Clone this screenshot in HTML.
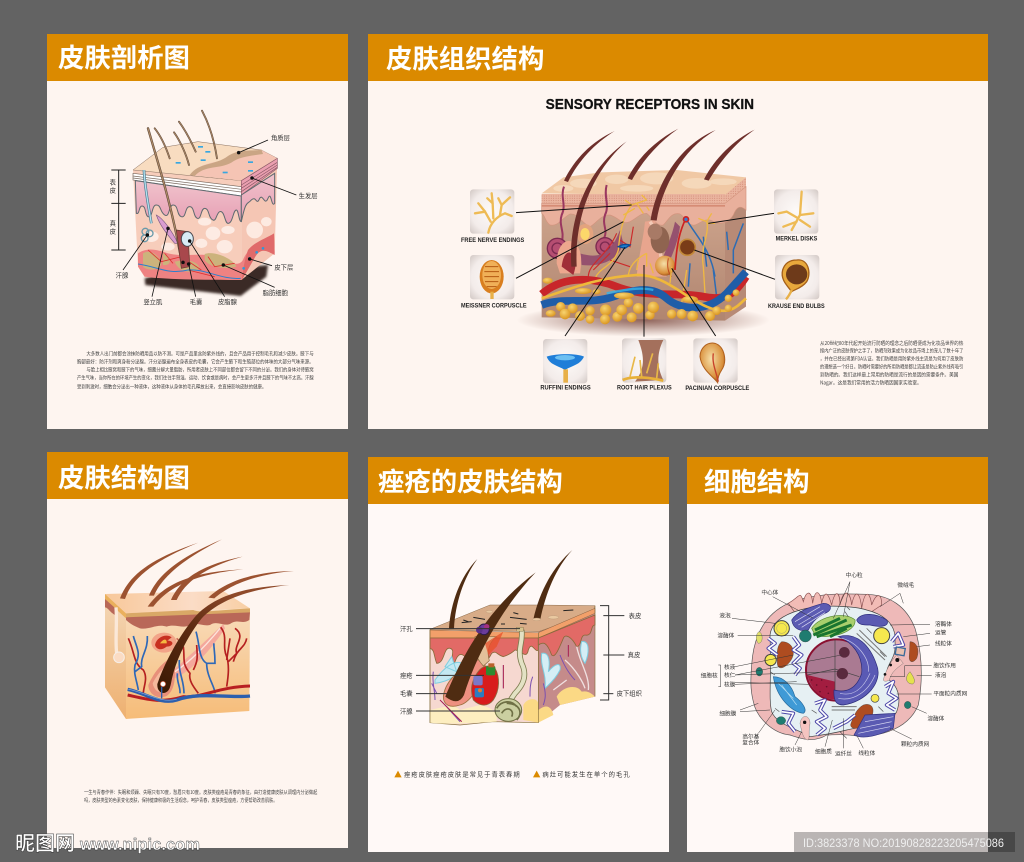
<!DOCTYPE html>
<html lang="zh"><head><meta charset="utf-8"><title>皮肤结构</title>
<style>
html,body{margin:0;padding:0;background:#636363;width:1024px;height:862px;overflow:hidden}
svg{display:block}
text{font-family:"Liberation Sans","Noto Sans CJK SC",sans-serif}
.h{font-size:26.4px;font-weight:700;fill:#fff;font-family:"Noto Sans CJK SC",sans-serif}
.l{font-size:19px;fill:#333;font-family:"Noto Sans CJK SC",sans-serif}
.p{font-size:15px;fill:#444;font-family:"Noto Sans CJK SC",sans-serif}
.e{font-size:18px;font-weight:700;fill:#222}
</style></head><body>
<svg xmlns="http://www.w3.org/2000/svg" width="1024" height="862" viewBox="0 0 1024 862">
<defs>
<filter id="b4"><feGaussianBlur stdDeviation="4"/></filter>
<radialGradient id="fat" cx=".4" cy=".35" r=".7"><stop offset="0" stop-color="#f8d470"/><stop offset="1" stop-color="#d9921c"/></radialGradient>
<radialGradient id="fat2" cx=".45" cy=".4" r=".6"><stop offset="0" stop-color="#f6dfa8"/><stop offset=".8" stop-color="#d98f3a"/><stop offset="1" stop-color="#a65a20"/></radialGradient>
<radialGradient id="card" cx=".5" cy=".5" r=".72"><stop offset="0" stop-color="#fdfaf8"/><stop offset=".65" stop-color="#f3ecea"/><stop offset="1" stop-color="#cfc5c1"/></radialGradient>
<linearGradient id="pk" x1="0" y1="0" x2="0" y2="1"><stop offset="0" stop-color="#f0c3cc"/><stop offset="1" stop-color="#e79fb4"/></linearGradient>
<linearGradient id="der" x1="0" y1="0" x2="0" y2="1"><stop offset="0" stop-color="#d0a78f"/><stop offset="1" stop-color="#b08570"/></linearGradient>
<linearGradient id="f3" x1="0" y1="0" x2="0" y2="1"><stop offset="0" stop-color="#f8dcbc"/><stop offset="1" stop-color="#f6bc78"/></linearGradient>
<linearGradient id="f3l" x1="0" y1="0" x2="0" y2="1"><stop offset="0" stop-color="#f4d8b8"/><stop offset="1" stop-color="#eeb070"/></linearGradient>
<linearGradient id="t3" x1="0" y1="0" x2="1" y2="0"><stop offset="0" stop-color="#f8c89a"/><stop offset=".6" stop-color="#fbdcc6"/><stop offset="1" stop-color="#f8cfa4"/></linearGradient>
<linearGradient id="hg3" gradientUnits="userSpaceOnUse" x1="300" y1="470" x2="520" y2="190"><stop offset="0" stop-color="#3c1a05"/><stop offset=".55" stop-color="#5e2c12"/><stop offset="1" stop-color="#8f4a2a"/></linearGradient>
<pattern id="dots" width="7" height="7" patternUnits="userSpaceOnUse"><rect width="7" height="7" fill="#eab49f"/><circle cx="3" cy="3" r="1.1" fill="#b9624e"/></pattern>
<radialGradient id="sh"><stop offset="0" stop-color="#6b3328" stop-opacity=".75"/><stop offset="1" stop-color="#6b3328" stop-opacity="0"/></radialGradient>
</defs>

<rect width="1024" height="862" fill="#636363"/>
<!-- panels -->
<rect x="47" y="34" width="301" height="395" fill="#fef5f0"/><rect x="47" y="34" width="301" height="47" fill="#db8a00"/>
<rect x="368" y="34" width="620" height="395" fill="#fef5f0"/><rect x="368" y="34" width="620" height="47" fill="#db8a00"/>
<rect x="47" y="452" width="301" height="396" fill="#fef5f0"/><rect x="47" y="452" width="301" height="47" fill="#db8a00"/>
<rect x="368" y="457" width="301" height="395" fill="#fff9f7"/><rect x="368" y="457" width="301" height="47" fill="#db8a00"/>
<rect x="687" y="457" width="301" height="395" fill="#fff9f7"/><rect x="687" y="457" width="301" height="47" fill="#db8a00"/>
<text class="h" x="58" y="67">皮肤剖析图</text>
<text class="h" x="386" y="68">皮肤组织结构</text>
<text class="h" x="58" y="487">皮肤结构图</text>
<text class="h" x="378" y="491">痤疮的皮肤结构</text>
<text class="h" x="704" y="491">细胞结构</text>

<!-- PANEL 1 -->
<g transform="translate(48 90) scale(.33333)">
<polygon points="290,565 320,555 660,525 655,560 578,618 292,585" fill="#3a2a25" filter="url(#b4)"/>
<polygon points="580,272 688,205 680,490 580,570" fill="#f5c6b4"/>
<polygon points="255,240 580,272 580,570 290,562 270,530" fill="#f7cdbb"/>
<polygon points="255,240 345,172 450,155 640,180 688,205 580,272" fill="#f8dcc0" stroke="#8a7060" stroke-width="1.5"/>
<path d="M425,255 C470,205 520,225 555,195 C590,178 625,185 640,180 L688,205 L580,272 Z" fill="#f5c4b4"/>
<path d="M425,255 C455,215 500,228 540,198 C575,175 620,185 640,178 L645,192 C605,198 575,200 550,218 C515,238 470,225 440,258 Z" fill="#caa584"/>
<polygon points="255,250 580,290 580,318 255,270" fill="#fff" stroke="#7a6a60" stroke-width="2"/>
<path d="M255,258 L580,298 M255,264 L580,306" stroke="#7a6a60" stroke-width="2" fill="none"/>
<polygon points="580,272 688,205 688,235 580,315" fill="#eb9fb0" stroke="#8a5a66" stroke-width="2"/>
<path d="M580,285 L688,217 M580,295 L688,225 M580,305 L688,232" stroke="#8a5a66" stroke-width="2" fill="none"/>
<path d="M262,272 L580,318 L580,395 C572,395 572,360 565,360 C555,360 555,400 540,400 C530,400 530,360 515,365 C505,370 505,395 495,390 C480,385 485,355 470,355 C458,355 460,390 448,385 C435,380 440,350 425,350 C410,350 415,385 400,380 C385,375 392,345 375,345 C362,345 365,385 350,375 C335,365 340,345 325,345 C310,345 315,385 300,380 C290,375 295,348 282,348 C272,348 275,375 265,370 Z" fill="url(#pk)" stroke="#5f6a70" stroke-width="3"/>
<path d="M580,315 L680,250 L680,340 C670,355 670,300 660,325 C650,350 645,310 635,325 C625,350 625,315 610,330 C598,345 595,325 580,395 Z" fill="url(#pk)" stroke="#5f6a70" stroke-width="3"/>
<g fill="#fff1ea" opacity=".85">
<ellipse cx="310" cy="440" rx="22" ry="16"/><ellipse cx="470" cy="395" rx="20" ry="12"/><ellipse cx="495" cy="430" rx="22" ry="20"/><ellipse cx="530" cy="470" rx="24" ry="20"/><ellipse cx="540" cy="420" rx="20" ry="12"/><ellipse cx="620" cy="420" rx="25" ry="25"/><ellipse cx="655" cy="395" rx="16" ry="14"/><ellipse cx="360" cy="470" rx="20" ry="12"/><ellipse cx="460" cy="460" rx="18" ry="14"/>
</g>
<path d="M270,490 C300,470 330,480 360,490 C420,505 470,480 530,510 C560,525 575,525 585,510 C600,470 640,455 660,445 L678,430 L680,490 C660,485 640,470 620,500 L580,570 C500,570 360,570 290,560 L270,530 Z" fill="#ee8282"/>
<path d="M285,490 C310,475 335,500 340,520 C340,540 300,545 285,530 Z M345,490 C370,495 375,530 345,525 Z M470,492 C500,480 560,510 565,530 C530,540 480,530 470,510 Z M380,515 C420,505 450,515 455,535 C430,555 390,545 380,515 Z" fill="#ccb37c"/>
<path d="M300,480 L340,515 L400,500 L460,540 M350,490 L375,520 M480,500 L500,530 L560,520 M420,540 L500,560" stroke="#e03030" stroke-width="2.5" fill="none"/>
<path d="M270,522 C330,530 360,555 420,540 C470,535 520,570 578,565" stroke="#2e7fcc" stroke-width="3" fill="none"/>
<path d="M600,480 C620,455 655,445 678,430 L680,495 C660,485 640,470 622,500 L582,570 C586,530 590,510 600,480 Z" fill="#e06a6a"/>
<g fill="#2e9ad8"><circle cx="626" cy="487" r="4"/><circle cx="645" cy="475" r="4"/><circle cx="605" cy="505" r="4"/><circle cx="587" cy="535" r="4"/></g>
<g fill="#37a7e0"><rect x="450" y="168" width="15" height="5"/><rect x="472" y="183" width="15" height="5"/><rect x="383" y="216" width="15" height="5"/><rect x="458" y="208" width="15" height="5"/><rect x="600" y="214" width="15" height="5"/><rect x="524" y="245" width="15" height="5"/><rect x="600" y="240" width="15" height="5"/></g>
<path d="M288,240 C290,290 300,340 310,400" stroke="#4a7a90" stroke-width="8" fill="none"/><path d="M288,240 C290,290 300,340 310,400" stroke="#b4e0ee" stroke-width="4" fill="none"/>
<circle cx="292" cy="425" r="10" fill="none" stroke="#6a9aaa" stroke-width="4"/><circle cx="305" cy="430" r="10" fill="none" stroke="#6a9aaa" stroke-width="4"/><circle cx="290" cy="445" r="10" fill="none" stroke="#6a9aaa" stroke-width="4"/>
<path d="M325,375 C345,385 370,420 390,460 L380,460 C355,430 335,405 325,375 Z" fill="#d99cd0" stroke="#7a5a80" stroke-width="2"/>
<g fill="none" stroke-linecap="round">
<path d="M300,115 C330,220 370,340 400,510" stroke="#5c4638" stroke-width="7"/><path d="M300,115 C330,220 370,340 400,510" stroke="#b08c68" stroke-width="3.5"/>
<path d="M320,115 C340,140 355,175 365,205" stroke="#5c4638" stroke-width="5.5"/><path d="M320,115 C340,140 355,175 365,205" stroke="#b08c68" stroke-width="2.5"/>
<path d="M378,127 C398,155 415,195 423,225" stroke="#5c4638" stroke-width="5.5"/><path d="M378,127 C398,155 415,195 423,225" stroke="#b08c68" stroke-width="2.5"/>
<path d="M393,95 C415,125 432,160 443,185" stroke="#5c4638" stroke-width="5.5"/><path d="M393,95 C415,125 432,160 443,185" stroke="#b08c68" stroke-width="2.5"/>
<path d="M462,62 C485,105 500,160 507,205" stroke="#5c4638" stroke-width="5.5"/><path d="M462,62 C485,105 500,160 507,205" stroke="#b08c68" stroke-width="2.5"/>
</g>
<path d="M385,420 L420,425 L425,530 L400,535 Z" fill="#a8484c" stroke="#5c3a2e" stroke-width="2"/>
<ellipse cx="418" cy="447" rx="18" ry="22" fill="#d8ecf6" stroke="#4a4a50" stroke-width="3"/>
<g stroke="#111" stroke-width="2.5" fill="#111">
<path d="M572,188 L660,150" fill="none"/><circle cx="572" cy="188" r="4"/>
<path d="M612,264 L745,315" fill="none"/><circle cx="612" cy="264" r="4"/>
<path d="M605,507 L672,527" fill="none"/><circle cx="605" cy="507" r="4"/>
<path d="M526,525 L680,592" fill="none"/><circle cx="526" cy="525" r="4"/>
<path d="M425,453 L530,620" fill="none"/><circle cx="425" cy="453" r="4"/>
<path d="M422,522 L443,620" fill="none"/><circle cx="405" cy="517" r="4"/><circle cx="422" cy="522" r="4"/>
<path d="M360,415 L312,620" fill="none"/><circle cx="360" cy="415" r="4"/>
<path d="M298,435 L225,540" fill="none"/><circle cx="298" cy="435" r="4"/>
</g>
<path d="M190,240 H233 M190,340 H233 M190,480 H233 M212,240 V480" stroke="#222" stroke-width="3" fill="none"/>
<g>
<text class="l" x="185" y="283">表</text><text class="l" x="185" y="307">皮</text><text class="l" x="185" y="407">真</text><text class="l" x="185" y="431">皮</text>
<text class="l" x="669" y="150">角质层</text><text class="l" x="752" y="324">生发层</text><text class="l" x="679" y="538">皮下层</text><text class="l" x="644" y="615">脂肪细胞</text><text class="l" x="510" y="642">皮脂腺</text><text class="l" x="425" y="642">毛囊</text><text class="l" x="286" y="642">竖立肌</text><text class="l" x="203" y="562">汗腺</text>
</g>
<text class="p" x="115" y="797" textLength="682" lengthAdjust="spacingAndGlyphs">大多数人出门前都会涂抹防晒用品以防不测。可是产品里含防紫外线的，且会产品用于控制毛孔和减少皮肤。腋下与</text>
<text class="p" x="87" y="820" textLength="710" lengthAdjust="spacingAndGlyphs">胸部最好：防汗剂和爽身粉分泌腺。汗分泌腺遍布全身表皮的毛囊，它会产生腋下和生殖部位的体味的大部分气味来源。</text>
<text class="p" x="115" y="844" textLength="682" lengthAdjust="spacingAndGlyphs">与脸上相比腋窝和腋下的气味，细菌分解大量脂肪，所用者皮肤上不同部位都会留下不同的分泌。我们的身体对待腋窝</text>
<text class="p" x="87" y="868" textLength="710" lengthAdjust="spacingAndGlyphs">产生气味，当你所在的环境产生的变化，我们往往手臂湿。运动、饮食或是病时，会产生更多汗并且腋下的气味不太高。汗腺</text>
<text class="p" x="87" y="895" textLength="568" lengthAdjust="spacingAndGlyphs">受到刺激时，细胞会分泌出一种液体，这种液体从身体的毛孔释放出来，会直接影响皮肤的健康。</text>
</g>

<!-- PANEL 2 -->
<g transform="translate(450 90) scale(.33333)">
<text x="287" y="57" font-size="45" font-weight="700" fill="#111" stroke="#111" stroke-width=".8" textLength="625" lengthAdjust="spacingAndGlyphs">SENSORY RECEPTORS IN SKIN</text>
<ellipse cx="580" cy="690" rx="380" ry="50" fill="url(#sh)"/>
<polygon points="825,315 888,262 888,650 825,692" fill="#b78a76"/>
<polygon points="275,315 825,315 825,692 275,682" fill="url(#der)"/>
<path d="M275,310 L340,262 L450,247 L680,240 L888,262 L825,318 Z" fill="#f0c8a4"/>
<g fill="#f7dcc0" opacity=".8"><ellipse cx="400" cy="280" rx="40" ry="14"/><ellipse cx="500" cy="268" rx="35" ry="14"/><ellipse cx="620" cy="265" rx="50" ry="18"/><ellipse cx="740" cy="280" rx="45" ry="16"/><ellipse cx="340" cy="295" rx="30" ry="10"/><ellipse cx="820" cy="275" rx="40" ry="10"/><ellipse cx="560" cy="295" rx="50" ry="10"/></g>
<path d="M275,312 H825 V340 H275 Z M825,315 L888,262 V290 L825,340 Z" fill="url(#dots)"/>
<path d="M275,340 H825 L888,290 V360 C870,345 860,350 850,375 C835,400 810,405 790,395 C770,380 750,400 735,405 C715,410 705,380 690,372 C665,365 655,390 640,405 C620,410 610,385 590,370 C570,370 560,385 540,395 C515,405 510,385 480,375 C450,375 440,400 420,410 C395,400 385,370 360,372 C335,385 325,410 300,405 C285,395 285,375 275,370 Z" fill="#e9b09c" stroke="#d3947e" stroke-width="2"/>
<rect x="275" y="345" width="550" height="5" fill="#c9755c" opacity=".6"/>
<!-- glands & structures -->
<path d="M342,290 C330,320 350,345 335,375 C325,405 345,425 335,455" stroke="#9a3860" stroke-width="6" fill="none"/>
<path d="M470,285 C460,320 480,345 465,375 C455,405 475,420 462,445" stroke="#9a3860" stroke-width="6" fill="none"/>
<circle cx="322" cy="475" r="30" fill="#b64e72" stroke="#7c2a50" stroke-width="4"/><circle cx="322" cy="475" r="16" fill="none" stroke="#7c2a50" stroke-width="4"/>
<circle cx="465" cy="470" r="27" fill="#b64e72" stroke="#7c2a50" stroke-width="4"/><circle cx="465" cy="470" r="14" fill="none" stroke="#7c2a50" stroke-width="4"/>
<path d="M390,490 C440,505 480,500 510,420 L520,460 C500,520 440,530 395,525 Z" fill="#95516e"/>
<path d="M640,500 C660,450 670,420 675,395 L690,410 C685,450 670,490 655,520 Z" fill="#95516e"/>
<ellipse cx="405" cy="432" rx="25" ry="30" fill="#e3a37e"/><ellipse cx="405" cy="432" rx="14" ry="18" fill="#fcd86a"/>
<path d="M320,520 C320,470 345,445 365,455 C400,470 395,520 390,550 L330,550 Z" fill="#eda78e"/><path d="M335,530 C338,500 350,480 365,490 C380,500 380,525 370,555 Z" fill="#a02e38"/>
<path d="M585,395 L615,390 C625,440 640,500 650,560 L560,560 C565,500 580,450 585,395 Z" fill="#e8a58e"/>
<path d="M600,395 C620,420 630,480 640,540" stroke="#f8d8c8" stroke-width="10" fill="none" opacity=".7"/>
<ellipse cx="630" cy="450" rx="28" ry="40" fill="#8f6450"/><ellipse cx="615" cy="425" rx="22" ry="24" fill="#a87a66"/>
<circle cx="645" cy="527" r="30" fill="url(#fat2)"/><path d="M655,505 C650,530 655,550 665,560" stroke="#c04a20" stroke-width="3" fill="none"/>
<circle cx="712" cy="472" r="24" fill="#7a3c18" stroke="#c48a3a" stroke-width="5"/>
<path d="M708,385 C690,420 680,460 675,540" stroke="#cc2222" stroke-width="5" fill="none"/><path d="M708,385 C730,430 780,470 795,560 M880,400 L850,480 L850,550 M830,425 L835,480 M760,440 L770,530 M720,520 L715,590 M790,540 L800,620" stroke="#2d6cb3" stroke-width="4.5" fill="none"/>
<circle cx="708" cy="388" r="10" fill="#cc2222"/><circle cx="708" cy="388" r="5" fill="#3a7bd0"/>
<path d="M415,560 C415,520 470,500 500,430 M430,540 L480,490 M480,510 L540,530 M510,450 L540,470 L550,410" stroke="#cc2a2a" stroke-width="3.5" fill="none"/>
<!-- nerves -->
<g fill="none" stroke="#efb843" stroke-width="4"><path d="M545,345 C520,380 510,420 505,480 C490,530 450,530 435,565"/><path d="M545,345 L590,330 M545,345 L525,330 M560,340 L580,370 M590,330 L575,315 M555,355 L520,375 M590,350 L598,362"/><path d="M535,555 C540,520 570,500 590,490 M590,490 L590,530 M600,520 L610,550 M565,510 L560,540"/><path d="M770,395 C780,430 750,470 760,530 L765,610 M770,395 L745,385 M770,395 L785,370 M770,400 L795,400"/><path d="M710,540 L695,640 M665,530 L660,580"/></g>
<path d="M505,470 Q520,460 540,465 L525,475 Z" fill="#1f7ed0" stroke="#0d4d98" stroke-width="4"/>
<!-- vessels -->
<path d="M275,612 C330,565 410,555 500,590 S690,605 760,620 S860,605 888,560" stroke="#c8262a" stroke-width="23" fill="none"/>
<path d="M275,645 C340,620 420,645 490,620 S610,590 650,625 S770,670 830,610 L888,545" stroke="#1f5da8" stroke-width="23" fill="none"/>
<path d="M470,610 C520,600 570,590 610,600" stroke="#38b4e8" stroke-width="7" fill="none" opacity=".8"/>
<path d="M275,625 C350,600 450,560 560,555 C640,552 700,620 770,650 S860,650 888,625" stroke="#efb83a" stroke-width="8" fill="none"/>
<!-- fat -->
<g fill="url(#fat)"><ellipse cx="293" cy="572" rx="15" ry="9"/><ellipse cx="302" cy="670" rx="15" ry="10"/><circle cx="332" cy="650" r="14"/><circle cx="345" cy="672" r="16"/><circle cx="368" cy="655" r="15"/><circle cx="390" cy="678" r="15"/><circle cx="420" cy="662" r="14"/><circle cx="420" cy="688" r="13"/><circle cx="467" cy="660" r="17"/><circle cx="465" cy="688" r="15"/><circle cx="502" cy="680" r="15"/><circle cx="515" cy="660" r="16"/><circle cx="535" cy="638" r="14"/><circle cx="545" cy="682" r="15"/><circle cx="565" cy="655" r="16"/><circle cx="600" cy="675" r="14"/><circle cx="610" cy="652" r="17"/><circle cx="665" cy="672" r="14"/><circle cx="695" cy="672" r="15"/><circle cx="728" cy="678" r="16"/><circle cx="780" cy="678" r="15"/><circle cx="800" cy="662" r="13"/><circle cx="835" cy="655" r="11"/><circle cx="858" cy="608" r="10"/><circle cx="835" cy="625" r="11"/><ellipse cx="400" cy="603" rx="25" ry="9"/><ellipse cx="440" cy="605" rx="12" ry="8"/><ellipse cx="522" cy="617" rx="30" ry="10"/><ellipse cx="720" cy="628" rx="24" ry="10"/></g>
<!-- hair -->
<g fill="#6e2f2b">
<path d="M342,272 C375,205 425,155 494,123 C435,160 385,212 354,276 Z"/>
<path d="M364,530 C355,400 400,245 530,154 C415,255 374,400 380,530 Z"/>
<path d="M533,265 C565,200 620,150 685,116 C625,158 578,212 546,270 Z"/>
<path d="M602,390 C618,290 680,170 797,120 C695,180 635,295 620,392 Z"/>
<path d="M762,268 C795,205 850,150 914,119 C855,160 810,215 776,272 Z"/>
</g>
<!-- cards -->
<g fill="url(#card)"><rect x="60" y="298" width="133" height="133" rx="10"/><rect x="60" y="495" width="133" height="133" rx="10"/><rect x="972" y="298" width="133" height="133" rx="10"/><rect x="975" y="495" width="133" height="133" rx="10"/><rect x="279" y="747" width="133" height="133" rx="10"/><rect x="516" y="745" width="133" height="133" rx="10"/><rect x="730" y="745" width="133" height="133" rx="10"/></g>
<g fill="none" stroke="#eebb55" stroke-width="7" stroke-linecap="round">
<path d="M115,428 C120,400 140,380 165,370 M122,395 L105,365 L75,370 M105,365 L85,340 M130,385 L128,340 L125,310 M128,340 L112,325 M150,375 L155,345 L180,322 M155,345 L145,325 M165,370 L185,378"/>
<path d="M1055,305 L1050,375 L1025,420 M1050,375 L1090,370 M1045,385 L1010,365 L985,370 M1040,395 L1000,410 M1050,390 L1080,410"/>
</g>
<ellipse cx="125" cy="560" rx="36" ry="50" fill="#d97f20"/><ellipse cx="125" cy="555" rx="28" ry="42" fill="#f0b058"/>
<path d="M105,530 H145 M103,545 H147 M103,560 H147 M105,575 H145 M110,590 H140" stroke="#b55a12" stroke-width="3"/><rect x="121" y="605" width="10" height="22" fill="#e8b048"/>
<path d="M1040,510 C1075,505 1085,550 1070,575 C1055,595 1030,600 1025,605 C1015,590 990,570 998,540 C1005,518 1020,510 1040,510 Z" fill="#e8a83c" stroke="#a5601a" stroke-width="4"/><ellipse cx="1040" cy="553" rx="32" ry="30" fill="#6e3a1a"/><path d="M1025,600 C1020,612 1015,620 1008,628" stroke="#e8b048" stroke-width="7" fill="none"/>
<path d="M290,800 C320,790 380,790 402,800 C390,825 370,825 345,840 C320,825 300,825 290,800 Z" fill="#1f7ed8"/><ellipse cx="345" cy="803" rx="30" ry="8" fill="#6cc0f2"/><rect x="340" y="838" width="14" height="40" fill="#e8b048"/>
<path d="M565,750 L640,750 C620,790 620,830 640,870 L555,875 C590,830 580,790 565,750 Z" fill="#a4705c"/><path d="M518,870 C550,855 610,865 640,872" stroke="#e8b038" stroke-width="8" fill="none"/><path d="M540,860 L555,800 M575,860 L570,810 M590,850 L608,790 M620,865 L625,820" stroke="#e8b848" stroke-width="5" fill="none"/>
<path d="M795,760 C825,770 832,815 815,840 C805,855 803,870 803,878 C790,860 755,840 750,800 C750,775 770,755 795,760 Z" fill="url(#fat2)" stroke="#b0601e" stroke-width="3"/><path d="M790,790 C785,820 800,850 805,875" stroke="#c8402a" stroke-width="4" fill="none"/>
<!-- lines -->
<g stroke="#111" stroke-width="3" fill="none"><path d="M198,368 L545,345"/><path d="M198,565 L520,395"/><path d="M345,738 L525,472"/><path d="M582,740 L582,525"/><path d="M797,738 L665,535"/><path d="M972,370 L775,400"/><path d="M975,568 L733,480"/></g>
<text class="e" x="33" y="456" textLength="190" lengthAdjust="spacingAndGlyphs">FREE NERVE ENDINGS</text>
<text class="e" x="33" y="652" textLength="197" lengthAdjust="spacingAndGlyphs">MEISSNER CORPUSCLE</text>
<text class="e" x="977" y="452" textLength="125" lengthAdjust="spacingAndGlyphs">MERKEL DISKS</text>
<text class="e" x="954" y="654" textLength="170" lengthAdjust="spacingAndGlyphs">KRAUSE END BULBS</text>
<text class="e" x="271" y="898" textLength="151" lengthAdjust="spacingAndGlyphs">RUFFINI ENDINGS</text>
<text class="e" x="501" y="898" textLength="164" lengthAdjust="spacingAndGlyphs">ROOT HAIR PLEXUS</text>
<text class="e" x="706" y="900" textLength="192" lengthAdjust="spacingAndGlyphs">PACINIAN CORPUSCLE</text>
</g>
<g transform="translate(810 330) scale(.33333)">
<text class="p" x="30" y="45" textLength="430" lengthAdjust="spacingAndGlyphs">从20世纪80年代起开始流行防晒的理念之后防晒便成为化妆品世界的热</text>
<text class="p" x="30" y="68" textLength="430" lengthAdjust="spacingAndGlyphs">搜内广泛的皮肤保护之手了，防晒剂效果成为化妆品市场上的宠儿了数十年了</text>
<text class="p" x="30" y="92" textLength="430" lengthAdjust="spacingAndGlyphs">，并在已经出现第FDA认证。我们防晒是用防紫外线主流是为何用了皮肤防</text>
<text class="p" x="30" y="116" textLength="430" lengthAdjust="spacingAndGlyphs">的理想选一个好日。防晒时需要好的所用防晒是都让流连是防止紫外线有吸引</text>
<text class="p" x="30" y="140" textLength="415" lengthAdjust="spacingAndGlyphs">到防晒的。我们这样最上常用的防晒是流行的是因的需要条件。美国</text>
<text class="p" x="30" y="164" textLength="305" lengthAdjust="spacingAndGlyphs">Nagar。这是我们常用的活力防晒因国家实验室。</text>
</g>

<!-- PANEL 3 -->
<g transform="translate(60 530) scale(.33333)">
<polygon points="135,192 198,250 198,567 135,472" fill="url(#f3l)"/>
<polygon points="198,250 570,235 568,543 198,567" fill="url(#f3)"/>
<polygon points="135,192 490,183 570,235 198,250" fill="url(#t3)"/>
<polygon points="135,192 198,250 198,265 135,207" fill="#eab05c"/>
<path d="M198,250 L400,240 C420,250 470,240 570,235 L570,250 L198,265 Z" fill="#d9a866"/>
<path d="M198,262 L570,247 L568,270 C545,285 535,265 510,282 C490,290 470,270 450,285 C430,290 410,275 390,285 C370,298 345,280 320,290 C290,280 270,300 240,295 C215,285 210,280 198,270 Z" fill="#b96858"/>
<path d="M135,207 L172,240 L172,258 C150,250 145,232 135,232 Z" fill="#b96858"/>
<path d="M168,232 C172,280 165,330 170,370" stroke="#fbe8d8" stroke-width="10" fill="none"/>
<circle cx="177" cy="382" r="16" fill="#fbdcc4" stroke="#f6efe8" stroke-width="3"/>
<!-- sweat gland -->
<ellipse cx="312" cy="338" rx="38" ry="30" fill="#f2a488"/><path d="M285,345 C290,320 320,310 335,322 L322,332 C345,332 340,350 320,350 C305,362 290,360 285,345 Z" fill="#c83020"/><path d="M300,340 C310,325 322,325 320,340 Z" fill="#f4b840"/>
<path d="M350,325 L370,345" stroke="#c96a5a" stroke-width="5"/>
<!-- muscle -->
<path d="M340,420 C380,385 430,340 490,282 L495,295 C460,350 400,420 345,445 Z" fill="#f4a89c"/>
<path d="M345,425 C390,395 440,345 480,295" stroke="#fde4da" stroke-width="4" fill="none"/>
<!-- vessels -->
<g fill="none" stroke="#b52020" stroke-width="5">
<path d="M205,325 C225,370 220,400 250,420 C265,445 250,470 250,490"/><path d="M482,292 C505,320 485,345 500,380 C510,410 503,450 500,470"/><path d="M500,390 L510,325"/><path d="M525,295 C560,320 520,345 530,370 L505,395"/><path d="M560,325 C555,355 530,355 520,395"/><path d="M370,350 C375,390 365,400 390,430 C385,450 400,470 415,490"/><path d="M410,345 C412,380 415,390 400,420"/></g>
<g fill="none" stroke="#2e68b8" stroke-width="5">
<path d="M220,318 C230,355 245,370 225,405 C220,430 230,450 235,480"/><path d="M262,318 C265,360 240,380 245,410 L225,425"/><path d="M408,305 C420,345 415,385 440,400 L465,400 C465,360 460,350 462,340 M440,400 C440,440 465,470 465,490"/><path d="M358,390 C355,430 372,450 372,490"/><path d="M352,430 C350,460 362,470 360,490"/></g>
<path d="M203,495 C270,510 300,520 370,500 C420,505 480,470 570,468" stroke="#b81f22" stroke-width="9" fill="none"/>
<path d="M203,478 C260,490 300,525 350,510 C420,485 500,505 570,498" stroke="#2c5fae" stroke-width="10" fill="none"/>
<path d="M205,478 C260,488 300,520 350,508" stroke="#85a8d8" stroke-width="2" fill="none"/>
<!-- follicle -->
<path d="M265,465 C285,420 310,395 340,380 C350,440 345,480 320,498 C290,510 265,490 265,465 Z" fill="#e8907a"/>
<path d="M278,460 C295,425 320,405 335,395 L332,470 C320,495 285,495 278,460 Z" fill="#f5b89c"/>
<path d="M292,462 C320,380 370,300 410,255 C470,195 560,170 688,165 C570,178 480,208 425,265 C385,315 345,390 332,465 C325,500 290,495 292,462 Z" fill="url(#hg3)"/>
<circle cx="309" cy="462" r="8" fill="#fff" stroke="#c85030" stroke-width="2"/><path d="M305,505 V470" stroke="#2c5fae" stroke-width="4"/>
<g fill="#9c5230">
<path d="M180,205 C205,140 265,88 415,38 C275,95 215,148 195,207 Z"/>
<path d="M267,197 C290,140 350,85 486,28 C360,92 305,145 282,197 Z"/>
<path d="M263,230 C305,170 380,125 550,118 C390,133 320,178 280,230 Z"/>
<path d="M333,210 C360,150 420,105 548,80 C430,113 375,158 350,210 Z"/>
<path d="M445,203 C490,160 570,125 702,123 C580,133 505,168 463,205 Z"/>
</g>
<text class="p" x="72" y="792" textLength="700" lengthAdjust="spacingAndGlyphs">一生与青春作伴：失眠和烦躁、失眠只有70度，愁眉只有10度。皮肤类痤疮是青春的象征，由打造健康皮肤从调理内分泌做起</text>
<text class="p" x="72" y="816" textLength="580" lengthAdjust="spacingAndGlyphs">吗，皮肤类型的色素变化皮肤，保持健康积极的生活观念，呵护青春，皮肤类型痤疮，方便帮助改善肌肤。</text>
</g>

<!-- PANEL 4 -->
<g transform="translate(380 540) scale(.33333)">
<polygon points="475,275 645,220 645,470 540,495 475,548" fill="#c58b8a"/>
<polygon points="150,270 475,290 475,548 340,545 240,555 150,548" fill="#f6d8d0" stroke="#8a7340" stroke-width="2"/>
<polygon points="150,268 330,195 470,195 645,197 640,218 475,275" fill="#d8ac88" stroke="#8a6a4a" stroke-width="1.5"/>
<polygon points="150,270 475,278 475,294 150,294" fill="#f2a06a" stroke="#8a6040" stroke-width="1.5"/>
<polygon points="475,278 645,205 645,220 475,294" fill="#f2a06a" stroke="#8a6040" stroke-width="1.5"/>
<path d="M150,294 H475 V330 C465,340 455,300 445,330 C440,360 420,330 405,330 C395,340 385,345 370,350 C350,345 350,330 335,340 C320,370 310,370 300,335 C285,320 265,350 255,350 C240,335 230,345 220,380 C205,360 230,330 210,325 C190,320 195,370 170,370 C160,345 165,330 150,325 Z" fill="#e26a66" stroke="#8a6a3a" stroke-width="2.5"/>
<path d="M475,294 L645,225 V255 C630,255 640,290 615,285 C600,285 605,320 590,320 C575,290 555,280 550,295 C535,330 525,355 515,345 C500,305 490,305 475,315 Z" fill="#e26a66" stroke="#8a6a3a" stroke-width="2.5"/>
<path d="M165,420 C190,385 225,355 250,372 C240,405 205,425 165,430 Z M195,380 L215,350 L230,395 Z" fill="#c4e8f2" stroke="#80cfe0" stroke-width="3"/>
<path d="M485,340 C510,335 510,370 505,395 C525,370 545,365 540,390 C525,420 505,435 495,445 C500,400 480,380 485,340 Z M605,305 C630,300 628,340 615,370 C600,350 600,325 605,305 Z" fill="#d5eef5" stroke="#7dcde0" stroke-width="3"/>
<path d="M150,525 V510 C200,500 220,490 240,510 L300,495 C320,500 340,505 350,525 V545 C300,548 200,555 150,548 Z" fill="#fdeec0"/>
<path d="M430,495 C440,475 470,470 475,490 V548 L430,540 Z M475,510 C500,490 515,500 520,525 L475,548 Z" fill="#fbd985"/>
<path d="M530,470 C545,440 590,430 605,455 C625,450 640,465 645,470 L540,495 Z" fill="#fbd985"/>
<path d="M160,395 C155,425 165,450 165,480 M155,430 L170,460 M180,480 C205,505 225,525 245,545 M195,495 L240,545 M370,375 V445 M458,410 C450,430 450,450 450,470 M565,315 V350 M540,345 C555,385 575,410 585,420 M490,430 C500,465 495,480 490,495" stroke="#7b50b0" stroke-width="3" fill="none"/>
<path d="M180,480 L245,545 M370,375 V445 M565,315 V350" stroke="#b52040" stroke-width="2.5" fill="none"/>
<path d="M590,320 C600,370 630,410 625,450 M555,360 C590,390 610,430 615,445 M520,450 L560,420" stroke="#f0e0e0" stroke-width="4" fill="none"/>
<!-- follicle, pimple -->
<path d="M190,470 C195,420 240,390 280,360 L315,360 C320,420 270,490 240,495 C210,505 190,495 190,470 Z" fill="#ee9080" stroke="#a07040" stroke-width="2.5"/>
<path d="M285,290 C280,330 285,350 310,378 L328,362 C318,330 330,305 350,290 Z" fill="#e3c09a" stroke="#8a6a40" stroke-width="2"/>
<path d="M315,310 L370,275 L350,320 L325,345 Z" fill="#e8502a" opacity=".75"/>
<path d="M285,410 C300,380 320,370 345,385 C360,410 360,450 340,480 C320,505 295,495 280,480 C272,455 272,435 285,410 Z" fill="#d81c1c" stroke="#8a6a40" stroke-width="2.5"/>
<path d="M196,470 C225,400 300,220 467,97 C370,200 290,340 252,465 Q235,500 196,470 Z" fill="#4f2c12"/>
<path d="M207,265 C212,190 240,110 292,57 C250,115 226,190 222,265 Z" fill="#4f2c12"/>
<path d="M460,238 C480,150 520,80 577,30 C527,85 497,160 481,238 Z" fill="#4f2c12"/>
<rect x="318" y="378" width="28" height="28" rx="5" fill="#2e8a30"/><rect x="325" y="370" width="18" height="12" fill="#b9602a"/>
<rect x="280" y="408" width="28" height="28" rx="5" fill="#7b78c8"/><rect x="284" y="444" width="28" height="28" rx="5" fill="#2c7cc0"/><circle cx="300" cy="451" r="6" fill="#e47a30"/>
<circle cx="312" cy="268" r="16" fill="#6a3c9a" stroke="#2a1a4a" stroke-width="3"/><circle cx="298" cy="270" r="10" fill="#5a3088"/><circle cx="320" cy="260" r="8" fill="#a33080"/>
<path d="M425,270 C430,310 410,325 425,370 C445,410 425,440 405,460 C395,475 390,480 390,490" stroke="#7e7c50" stroke-width="17" fill="none"/><path d="M425,270 C430,310 410,325 425,370 C445,410 425,440 405,460 C395,475 390,480 390,490" stroke="#e3e2c4" stroke-width="12" fill="none"/>
<rect x="410" y="262" width="20" height="12" fill="#d6c490" stroke="#6a5a30"/>
<ellipse cx="385" cy="510" rx="40" ry="34" fill="#cbcfa0" stroke="#6f7045" stroke-width="3"/><path d="M350,505 C365,480 395,480 410,500 M365,520 C380,495 405,510 395,530 M380,490 C420,490 430,520 410,540" stroke="#6f7045" stroke-width="5" fill="none"/>
<path d="M150,268 V548 M475,278 V548 M645,197 V470" stroke="#8a7340" stroke-width="2" fill="none"/>
<g fill="none" stroke="#222" stroke-width="3"><path d="M245,248 L275,245 M280,232 L315,238 M390,232 L440,238 M400,218 L415,222 M550,212 L580,210 M363,252 L375,252 M420,250 L440,252 M250,240 L265,245"/></g>
<ellipse cx="328" cy="215" rx="10" ry="4" fill="#e9c8a0" stroke="#b09070"/><ellipse cx="520" cy="232" rx="16" ry="5" fill="#e9c8a0" stroke="#b09070"/><ellipse cx="470" cy="238" rx="12" ry="4" fill="#e9c8a0" stroke="#b09070"/>
<g stroke="#333" stroke-width="3" fill="none"><path d="M108,266 H420"/><path d="M108,406 H312"/><path d="M108,461 H200"/><path d="M108,513 H360"/><path d="M660,197 H686 V480 H660"/><path d="M670,227 H733"/><path d="M670,345 H733"/><path d="M670,461 H700"/></g>
<text class="l" x="60" y="273">汗孔</text><text class="l" x="60" y="413">痤疮</text><text class="l" x="60" y="467">毛囊</text><text class="l" x="60" y="520">汗腺</text>
<text class="l" x="746" y="234">表皮</text><text class="l" x="743" y="351">真皮</text><text class="l" x="710" y="466">皮下组织</text>
<polygon points="43,712 65,712 54,692" fill="#db8a00"/><text class="l" x="72" y="709" textLength="347">痤疮皮肤痤疮皮肤是常见于青表春期</text>
<polygon points="459,712 481,712 470,692" fill="#db8a00"/><text class="l" x="487" y="709" textLength="262">病灶可能发生在单个的毛孔</text>
</g>

<!-- PANEL 5 -->
<g transform="translate(700 565) scale(.33333)">
<path d="M155,300 C160,220 190,150 265,115 C340,85 420,85 500,88 C570,90 620,125 645,190 C665,260 670,340 655,420 C630,480 570,510 480,515 C440,505 400,510 380,510 C340,535 300,520 270,510 C220,505 170,460 160,410 C150,370 152,340 155,300 Z" fill="#eeb9b8" stroke="#555" stroke-width="2"/>
<path d="M265,115 C300,95 300,75 310,110 C320,70 335,80 338,115 C345,70 360,75 365,115 C375,70 385,85 395,120 C405,70 420,80 420,120 C430,70 450,75 455,120 C465,70 480,80 485,130 C495,70 510,80 515,120 C530,80 545,85 545,120 L500,150 H290 Z" fill="#f2bcb6" stroke="#8a5050" stroke-width="2"/>
<path d="M210,210 C215,165 265,145 300,135 C370,115 470,125 500,135 C540,145 590,170 585,230 C590,290 555,290 560,340 C595,360 605,400 590,440 C570,480 480,485 440,495 C400,505 370,510 330,515 C290,490 230,480 215,440 C205,400 215,340 210,210 Z" fill="#e6f0f3" stroke="#444" stroke-width="2"/>
<path d="M335,190 C360,150 440,140 465,165 C470,200 390,225 345,210 Z" fill="#a9cf6c" stroke="#558a30" stroke-width="2"/>
<path d="M340,210 L440,165 M345,195 L420,160 M350,215 L455,180 M390,215 L440,190" stroke="#1b7530" stroke-width="9" fill="none"/>
<path d="M275,165 C295,135 335,125 370,115 C395,115 400,135 375,145 C355,155 340,165 325,195 C305,200 280,195 275,165 Z" fill="#5b5bb2" stroke="#303080" stroke-width="2"/>
<path d="M285,170 L360,125 M295,180 L370,135 M305,187 L375,143" stroke="#d8d8f2" stroke-width="2"/>
<path d="M470,165 C485,140 530,145 560,165 C570,180 550,190 510,180 C490,180 475,180 470,165 Z" fill="#5b5bb2" stroke="#303080" stroke-width="2"/>
<circle cx="245" cy="190" r="23" fill="#f6e84e" stroke="#444" stroke-width="3"/><circle cx="245" cy="190" r="15" fill="none" stroke="#777"/>
<circle cx="545" cy="212" r="24" fill="#f6e84e" stroke="#444" stroke-width="3"/>
<circle cx="212" cy="285" r="17" fill="#f6e84e" stroke="#444" stroke-width="3"/>
<path d="M177,200 C190,205 190,235 175,235 C165,225 168,205 177,200 Z" fill="#e2df6c" stroke="#555"/>
<circle cx="316" cy="213" r="18" fill="#1f7c70" stroke="#333"/>
<ellipse cx="178" cy="320" rx="10" ry="13" fill="#1f7c70" stroke="#333"/>
<ellipse cx="243" cy="467" rx="14" ry="12" fill="#1f7c70" stroke="#333"/>
<ellipse cx="623" cy="420" rx="10" ry="11" fill="#1f7c70" stroke="#333"/>
<path d="M630,230 C650,230 660,255 650,280 C640,295 625,295 628,270 Z" fill="#ae4c20" stroke="#333"/>
<path d="M630,320 C640,335 650,350 638,357 C622,358 610,340 630,320 Z" fill="#e5e14e" stroke="#444"/>
<path d="M245,230 C280,230 290,265 270,290 C250,315 230,315 232,290 C230,260 232,240 245,230 Z" fill="#ae4c20" stroke="#333"/>
<path d="M490,420 C520,410 530,440 505,470 C480,495 450,495 452,478 C460,455 470,430 490,420 Z" fill="#ae4c20" stroke="#333"/>
<circle cx="410" cy="315" r="92" fill="#aa7a92" stroke="#8a1030" stroke-width="6"/>
<path d="M322,330 C335,380 370,405 405,402 L405,350 Z" fill="#a31d40"/>
<g fill="#6a0f2a"><circle cx="335" cy="345" r="2.5"/><circle cx="350" cy="360" r="2.5"/><circle cx="365" cy="345" r="2.5"/><circle cx="380" cy="365" r="2.5"/><circle cx="360" cy="380" r="2.5"/><circle cx="385" cy="385" r="2.5"/></g>
<path d="M405,225 V405 M322,330 L405,312 L478,335" stroke="#444" stroke-width="2" fill="none"/>
<circle cx="433" cy="262" r="16" fill="#5a2a3e"/><circle cx="427" cy="326" r="17" fill="#5a2a3e"/>
<path d="M415,215 C470,200 510,240 530,300 C550,350 500,410 430,420 C410,420 400,410 402,375 C440,385 470,370 485,325 C490,270 455,230 415,215 Z" fill="#5a5ab4" stroke="#2a2a78" stroke-width="2"/>
<path d="M425,220 C470,230 510,280 505,320 M420,385 C460,395 490,370 510,325 M415,400 C460,410 505,380 525,330" stroke="#c8c8ea" stroke-width="2" fill="none"/>
<path d="M220,335 C250,335 275,360 285,395 C305,410 325,435 310,445 C275,440 230,400 220,335 Z" fill="#3f9ad6" stroke="#26689a" stroke-width="2"/>
<path d="M235,355 L280,400 M245,360 L290,420" stroke="#b0dcf2" stroke-width="2"/>
<g fill="none" stroke="#4c46a8" stroke-width="11" stroke-linejoin="round">
<path d="M205,220 L225,235 L205,250 L232,270"/>
<path d="M280,215 L298,240 L280,255 L305,270 L280,295 L300,310 L285,330"/>
<path d="M345,415 L375,405 L360,435 L380,455 L350,470 L375,490 L350,510"/>
<path d="M555,365 L580,350 L565,385 L590,400 L560,420 L585,435"/>
<path d="M575,230 L595,205 L610,240 L580,245"/>
<path d="M400,490 L440,470 L465,450"/>
<path d="M245,440 L280,445 L265,475 L285,500"/>
</g>
<g fill="none" stroke="#fff" stroke-width="5" stroke-linejoin="round">
<path d="M205,220 L225,235 L205,250 L232,270"/>
<path d="M280,215 L298,240 L280,255 L305,270 L280,295 L300,310 L285,330"/>
<path d="M345,415 L375,405 L360,435 L380,455 L350,470 L375,490 L350,510"/>
<path d="M555,365 L580,350 L565,385 L590,400 L560,420 L585,435"/>
<path d="M575,230 L595,205 L610,240 L580,245"/>
<path d="M400,490 L440,470 L465,450"/>
<path d="M245,440 L280,445 L265,475 L285,500"/>
</g>
<rect x="587" y="248" width="27" height="22" fill="#e8c0b0" stroke="#3a6a9a" stroke-width="4" transform="rotate(10 600 260)"/>
<path d="M550,345 C555,320 575,285 590,270 L610,295 C590,310 575,320 568,345 C560,350 552,350 550,345 Z" fill="#f5c4c0" stroke="#555"/>
<path d="M300,475 C305,445 330,450 330,475 C325,500 330,515 325,525 C310,525 305,500 300,475 Z" fill="#f5c4c0" stroke="#555"/><circle cx="314" cy="472" r="5" fill="#111"/>
<circle cx="592" cy="285" r="6" fill="#111"/><circle cx="572" cy="300" r="4" fill="#111"/><circle cx="555" cy="328" r="4" fill="#111"/>
<circle cx="525" cy="400" r="12" fill="#f6e84e" stroke="#444" stroke-width="2"/>
<path d="M470,205 L555,285 M478,195 L560,275" stroke="#777" stroke-width="3" fill="none"/>
<path d="M395,425 H470 M395,435 H465" stroke="#777" stroke-width="3"/>
<path d="M495,450 L585,445 L580,490 C540,510 490,525 462,510 Z" fill="#5b5bb2" stroke="#303080" stroke-width="2"/>
<path d="M495,470 L580,455 M480,490 L575,470 M475,505 L570,485" stroke="#d8d8f2" stroke-width="2"/>
<g stroke="#333" fill="none" stroke-width="1.5"><path d="M450,50 L400,160 M450,50 L430,155 M218,95 L340,160 M96,160 L225,175 M113,212 L280,212 M600,85 L540,125 M600,85 L610,115 M690,178 L570,180 M690,205 L610,215 M690,240 L650,245 M695,302 H614 V335 H570 M695,332 H650 M695,387 H590 M680,445 L635,425 M635,522 L570,490 M490,550 L470,510 M430,550 V460 M375,545 L397,465 M285,540 L305,500 M175,505 L225,435 M120,435 L175,415 M120,440 L210,435 M105,305 L280,270 M105,330 L425,270 M105,330 L415,320 M105,352 L330,358 M105,358 L290,350 M55,300 H62 V365 H55"/></g>
<g><text class="l" style="font-size:17px" x="437" y="36">中心粒</text><text class="l" style="font-size:17px" x="592" y="66">微绒毛</text><text class="l" style="font-size:17px" x="184" y="89">中心体</text><text class="l" style="font-size:17px" x="58" y="158">液泡</text><text class="l" style="font-size:17px" x="52" y="217">溶酶体</text><text class="l" style="font-size:17px" x="705" y="183">溶酶体</text><text class="l" style="font-size:17px" x="705" y="208">运管</text><text class="l" style="font-size:17px" x="705" y="241">线粒体</text><text class="l" style="font-size:17px" x="700" y="307">胞饮作用</text><text class="l" style="font-size:17px" x="705" y="336">液泡</text><text class="l" style="font-size:17px" x="700" y="392">平面粒内质网</text><text class="l" style="font-size:17px" x="682" y="467">溶酶体</text><text class="l" style="font-size:17px" x="603" y="543">颗粒内质网</text><text class="l" style="font-size:17px" x="475" y="570">线粒体</text><text class="l" style="font-size:17px" x="405" y="571">运纤丝</text><text class="l" style="font-size:17px" x="345" y="566">细胞质</text><text class="l" style="font-size:17px" x="238" y="559">胞饮小泡</text><text class="l" style="font-size:17px" x="127" y="521">高尔基</text><text class="l" style="font-size:17px" x="127" y="538">复合体</text><text class="l" style="font-size:17px" x="58" y="452">细胞膜</text><text class="l" style="font-size:17px" x="72" y="312">核液</text><text class="l" style="font-size:17px" x="72" y="336">核仁</text><text class="l" style="font-size:17px" x="72" y="364">核膜</text><text class="l" style="font-size:17px" x="2" y="337">细胞核</text></g>
<g stroke="#555" fill="none" stroke-width="2"><path d="M440,125 L450,135 M435,140 L445,155 M500,190 L515,205 M540,260 L555,275 M210,320 L225,330 M225,430 L238,440 M335,435 L350,445 M535,425 L550,440 M420,500 L440,520"/></g>
</g>

<!-- watermarks -->
<text x="15" y="850" font-size="20" font-weight="700" fill="#fff" stroke="#333" stroke-width=".5" style="font-family:'Noto Sans CJK SC',sans-serif">昵图网</text>
<text x="80" y="850" font-size="17" font-weight="700" fill="#fff" stroke="#333" stroke-width=".4" textLength="120" lengthAdjust="spacingAndGlyphs">www.nipic.com</text>
<rect x="794" y="832" width="221" height="20" fill="#000" opacity=".27"/>
<text x="803" y="847" font-size="11.5" fill="#eee" textLength="201" lengthAdjust="spacingAndGlyphs">ID:3823378 NO:20190828223205475086</text>
</svg>
</body></html>
